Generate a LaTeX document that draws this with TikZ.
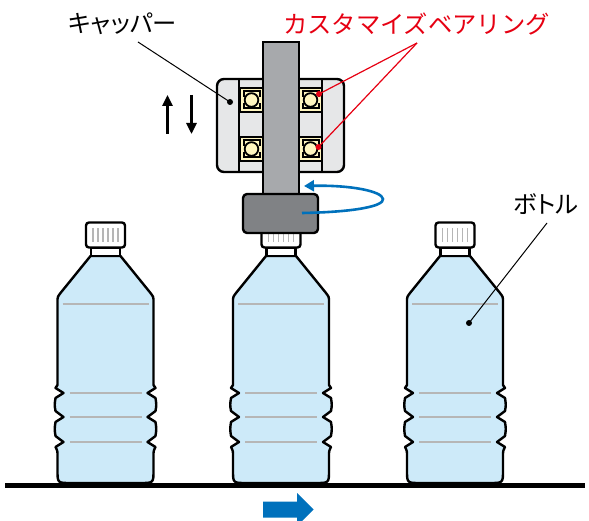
\documentclass[tikz,border=0pt]{standalone}
\usepackage{fontspec}
\newfontfamily\jpfont{Noto Sans CJK JP}
\newfontfamily\jppropfont[RawFeature=+palt]{Noto Sans CJK JP}
\usetikzlibrary{arrows.meta}

\definecolor{bottleblue}{RGB}{205,234,249}
\definecolor{housinggrey}{RGB}{230,231,232}
\definecolor{shaftgrey}{RGB}{167,169,172}
\definecolor{chuckgrey}{RGB}{128,130,133}
\definecolor{ballyellow}{RGB}{255,246,191}
\definecolor{ribgrey}{RGB}{182,182,182}
\definecolor{labelred}{RGB}{230,0,18}
\definecolor{flowblue}{RGB}{0,113,188}

\tikzset{
  outline/.style={draw=black, line width=2.4pt, line join=round},
  rib/.style={draw=ribgrey, line width=2.6pt},
  stripe/.style={draw=ribgrey, line width=1.8pt},
  leader/.style={draw=black, line width=1pt},
  redleader/.style={draw=labelred, line width=1.2pt},
  dotmark/.style={circle, fill=black, inner sep=0pt, minimum size=6pt},
  reddot/.style={circle, fill=labelred, inner sep=0pt, minimum size=6pt},
  jplabel/.style={font=\jpfont\fontsize{24.3}{24.3}\selectfont, inner sep=0pt, anchor=west},
  jpproplabel/.style={font=\jppropfont\fontsize{24.3}{24.3}\selectfont, inner sep=0pt, anchor=west},
  moveline/.style={draw=black, line width=2.6pt, -{Triangle[length=11pt,width=10pt]}},
}

% one PET bottle, centred on x = #1
\newcommand\petbottle[1]{%
\begin{scope}[shift={(#1,0)}]
  \path[outline, fill=bottleblue]
    (-15,256) -- (-45,293) .. controls (-48,297) .. (-48,302)
    -- (-48,385) -- (-50,388) -- (-42,393) -- (-50,398)
    .. controls (-51,405) .. (-50,411) -- (-42,417) -- (-50,422)
    .. controls (-51,429) .. (-50,436) -- (-42,442) -- (-50,447)
    .. controls (-48,451) .. (-48,456) -- (-48,470)
    .. controls (-48,483) .. (-35,483) -- (35,483)
    .. controls (48,483) .. (48,470) -- (48,456)
    .. controls (48,451) .. (50,447) -- (42,442) -- (50,436)
    .. controls (51,429) .. (50,422) -- (42,417) -- (50,411)
    .. controls (51,405) .. (50,398) -- (42,393) -- (50,388)
    -- (48,385) -- (48,302) .. controls (48,297) .. (45,293)
    -- (15,256) -- cycle;
  \draw[rib] (-43,304) -- (43,304);
  \foreach \ry in {393,417,442} \draw[rib] (-36,\ry) -- (36,\ry);
  \path[outline, fill=white] (-14.5,247.5) rectangle (14.5,256);
  \path[outline, fill=white, rounded corners=3pt] (-19.5,222.5) rectangle (19.5,247.5);
  \foreach \sx in {-12,-7,-2,3,8,13} \draw[stripe] (\sx-0.5,228.5) -- (\sx-0.5,242);
\end{scope}}

% one ball bearing, top-left corner at (#1,#2)
\newcommand\ballbearing[2]{%
\begin{scope}[shift={(#1,#2)}]
  \path[outline, line width=2pt, fill=ballyellow] (0,0) rectangle (23,24);
  \draw[line width=2pt] (3.5,9) -- (3.5,3.5) -- (19.5,3.5) -- (19.5,9);
  \draw[line width=2pt] (3.5,15) -- (3.5,20.5) -- (19.5,20.5) -- (19.5,15);
  \path[draw=black, line width=1.8pt, fill=ballyellow] (11.5,12) circle (6.8);
\end{scope}}

\begin{document}
\begin{tikzpicture}[x=1pt, y=-1pt]
\useasboundingbox (0,0) rectangle (589,521);

% bottles on the conveyor
\petbottle{105.5}
\petbottle{281}
\petbottle{455}

% conveyor belt and travel direction
\draw[line width=5pt] (5,485.5) -- (585,485.5);
\path[fill=flowblue] (263,501.5) -- (297,501.5) -- (297,493) -- (313.5,509.5)
  -- (297,526) -- (297,517.5) -- (263,517.5) -- cycle;

% capper housing with its bearings
\path[outline, fill=housinggrey, rounded corners=7pt] (217,79) rectangle (344,172);
\draw[line width=2pt] (239,79) -- (239,172);
\draw[line width=2pt] (322,79) -- (322,172);
\ballbearing{240}{88}
\ballbearing{240}{137}
\ballbearing{299}{88}
\ballbearing{299}{137}

% spindle and chuck
\path[outline, line join=miter, fill=shaftgrey] (263,42) rectangle (299,195);
\path[outline, fill=chuckgrey, rounded corners=4pt] (243,194) rectangle (318,233);

% rotation of the chuck
\draw[flowblue, line width=2.6pt, -{Triangle[length=10pt,width=11pt]}]
  (302,213) .. controls (356,212) and (384,206) .. (383,199)
  .. controls (382,191) and (350,185) .. (304,186);

% up / down travel of the capper
\coordinate (upfoot) at (167.5,134);
\coordinate (uphead) at (167.5,95);
\coordinate (downfoot) at (191.5,95);
\coordinate (downhead) at (191.5,134);
\draw[moveline] (upfoot) -- (uphead);
\draw[moveline] (downfoot) -- (downhead);

% labels and leaders
\node[jpproplabel] (capper) at (68,24) {キャッパー};
\node[jplabel, text=labelred] (bearings) at (283,24) {カスタマイズベアリング};
\node[jpproplabel] (bottle) at (513,204) {ボトル};

\coordinate (capperfoot) at (138,42);
\node[dotmark] (capperdot) at (230,102) {};
\draw[leader] (capperfoot) -- (capperdot.center);

\coordinate (bearingfoot) at (417,43);
\node[reddot] (bearingdotA) at (319,94) {};
\node[reddot] (bearingdotB) at (318.5,147) {};
\draw[redleader] (bearingfoot) -- (bearingdotA.center);
\draw[redleader] (bearingfoot) -- (bearingdotB.center);

\coordinate (bottlefoot) at (547,223);
\node[dotmark] (bottledot) at (469,323) {};
\draw[leader] (bottlefoot) -- (bottledot.center);
\end{tikzpicture}
\end{document}
